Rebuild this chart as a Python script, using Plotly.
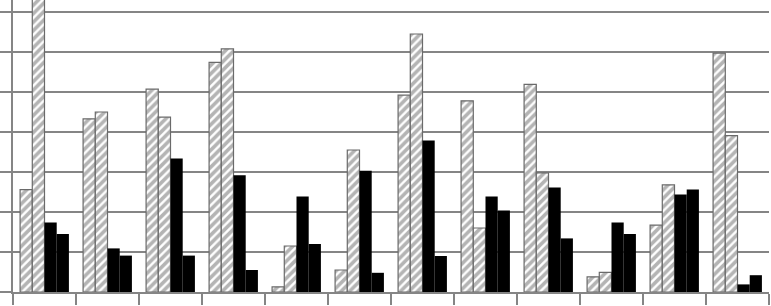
import plotly.graph_objects as go

categories = list(range(12))
series_a = [2.56, 4.33, 5.07, 5.74, 0.13, 0.55, 4.92, 4.78, 5.19, 0.38, 1.67, 5.97]
series_b = [7.40, 4.50, 4.37, 6.08, 1.15, 3.55, 6.45, 1.60, 2.98, 0.49, 2.68, 3.91]
series_c = [1.74, 1.09, 3.34, 2.92, 2.39, 3.03, 3.79, 2.39, 2.61, 1.74, 2.44, 0.19]
series_d = [1.45, 0.91, 0.91, 0.55, 1.20, 0.48, 0.90, 2.04, 1.34, 1.45, 2.56, 0.42]

GRAY = "#858585"
HATCH = "#6a6a6a"

fig = go.Figure()
for vals in (series_a, series_b):
    fig.add_trace(go.Bar(
        x=categories, y=vals,
        marker=dict(color="white",
                    pattern=dict(shape="/", fgcolor=HATCH, bgcolor="white", size=6, solidity=0.6),
                    line=dict(color=HATCH, width=1.2)),
        showlegend=False))
for vals in (series_c, series_d):
    fig.add_trace(go.Bar(
        x=categories, y=vals,
        marker=dict(color="black", line=dict(width=0)),
        showlegend=False))

fig.update_layout(
    width=771, height=306,
    margin=dict(l=13, r=2, t=0, b=14, autoexpand=False),
    paper_bgcolor="white", plot_bgcolor="white",
    barmode="group", bargap=0.225, bargroupgap=0,
    hovermode=False,
    xaxis=dict(range=[-0.5, 11.5], tickmode="array",
               tickvals=[i - 0.5 for i in range(13)],
               ticks="outside", ticklen=11, tickcolor=GRAY, tickwidth=1.5,
               showticklabels=False, showgrid=False, zeroline=False,
               showline=True, linecolor=GRAY, linewidth=2),
    yaxis=dict(range=[0, 7.3], dtick=1, tick0=0,
               ticks="outside", ticklen=13, tickcolor=GRAY, tickwidth=1.5,
               showticklabels=False, showgrid=True, gridcolor=GRAY, gridwidth=1.5,
               zeroline=False, showline=True, linecolor=GRAY, linewidth=2),
)

fig.write_html("out.html",
               config={"displayModeBar": False, "staticPlot": True},
               post_script="document.body.style.margin='0';document.body.style.overflow='hidden';")
